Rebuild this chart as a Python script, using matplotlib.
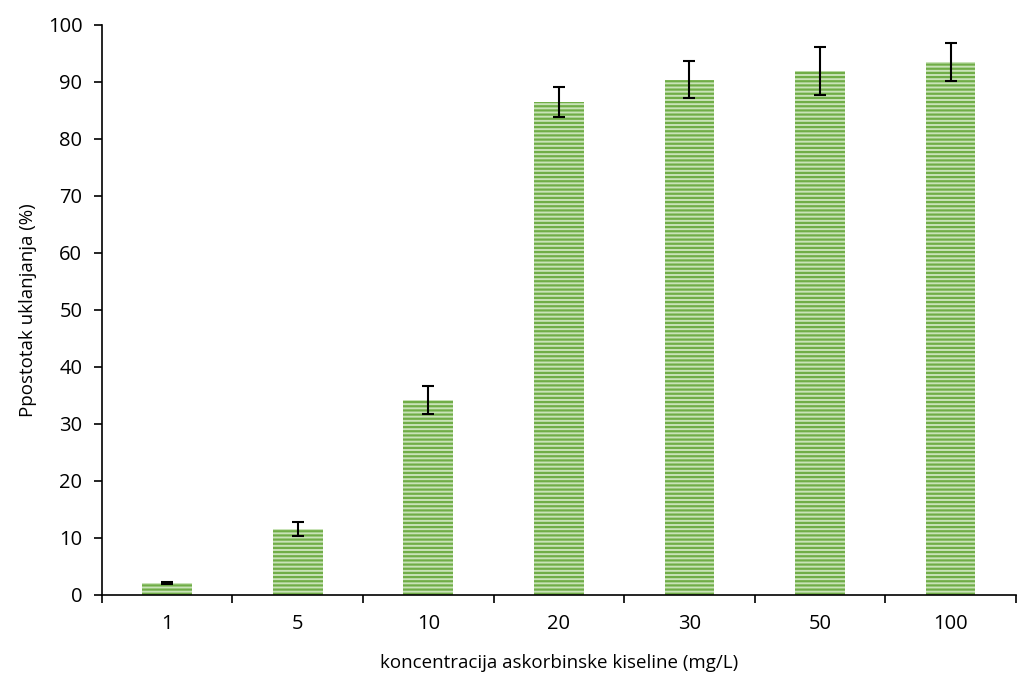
import matplotlib
matplotlib.use('Agg')
import matplotlib.pyplot as plt
import numpy as np

categories = ['1', '5', '10', '20', '30', '50', '100']
values = [2.1, 11.6, 34.2, 86.5, 90.4, 91.9, 93.5]
errors = [0.2, 1.2, 2.4, 2.6, 3.2, 4.2, 3.4]

plt.rcParams['font.family'] = ['Open Sans', 'DejaVu Sans']
plt.rcParams['hatch.linewidth'] = 1.6

fig = plt.figure(figsize=(10.18, 6.73), dpi=100)
ax = fig.add_axes([0.1, 0.116, 0.898, 0.847])

x = np.arange(len(categories))
ax.bar(x, values, width=0.38, color='#c9e3b8', edgecolor='#70ad47',
       hatch='----', linewidth=0, zorder=2)
ax.errorbar(x, values, yerr=errors, fmt='none', ecolor='black',
            elinewidth=1.5, capsize=4.5, capthick=1.5, zorder=3)

ax.set_xlim(-0.5, len(categories) - 0.5)
ax.set_ylim(0, 100)
ax.set_yticks(np.arange(0, 101, 10))
ax.set_xticks(x)
ax.set_xticklabels(categories)
ax.set_xticks(np.arange(-0.5, len(categories), 1.0), minor=True)
ax.tick_params(axis='x', which='major', length=0, labelsize=14.5, pad=14)
ax.tick_params(axis='x', which='minor', length=6, width=1.2, direction='out')
ax.tick_params(axis='y', length=6, width=1.2, labelsize=14.5, pad=8)

for s in ['top', 'right']:
    ax.spines[s].set_visible(False)
for s in ['left', 'bottom']:
    ax.spines[s].set_linewidth(1.2)

ax.set_xlabel('koncentracija askorbinske kiseline (mg/L)', fontsize=13.5, labelpad=14)
ax.set_ylabel('Ppostotak uklanjanja (%)', fontsize=13.5, labelpad=8)

plt.savefig('out.png', dpi=100)
